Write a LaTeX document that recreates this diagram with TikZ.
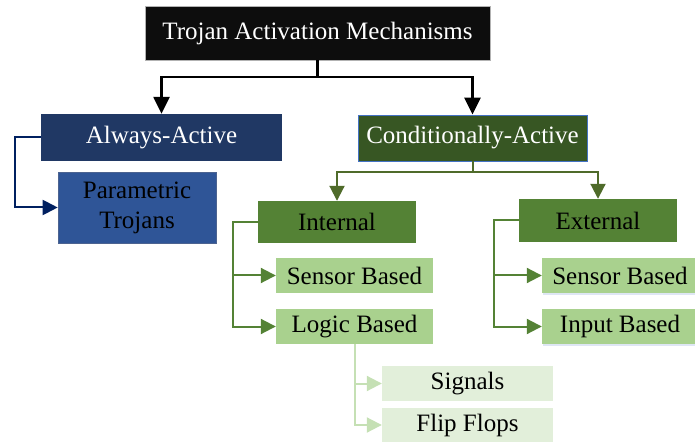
\documentclass[tikz,border=0pt]{standalone}
\usepackage{fontspec}
\setmainfont{Liberation Serif}
\usetikzlibrary{arrows.meta,shadows}
\definecolor{topfill}{HTML}{0D0D0D}
\definecolor{navy}{HTML}{203864}
\definecolor{navyline}{HTML}{002060}
\definecolor{midblue}{HTML}{2F5597}
\definecolor{bordblue}{HTML}{4472C4}
\definecolor{darkgreen}{HTML}{375623}
\definecolor{green}{HTML}{548235}
\definecolor{stemgreen}{HTML}{4F6B2A}
\definecolor{lightgreen}{HTML}{A9D18E}
\definecolor{palegreen}{HTML}{E2EFDA}
\definecolor{paleline}{HTML}{C5E0B4}
\tikzset{
  box/.style={rectangle, inner sep=0pt, align=center,
    font=\fontsize{25}{30}\selectfont},
  conn/.style={line width=2pt, -{Triangle[width=15pt,length=15pt]}},
}
\begin{document}
\begin{tikzpicture}[x=1pt,y=-1pt]
\useasboundingbox (0,0) rectangle (695,443);
% boxes: centre = middle of the pixel extents
\node[box, fill=topfill, draw=gray!60, text=white, minimum width=345pt, minimum height=54pt]
  (top) at (317.5,33) {Trojan Activation Mechanisms};
\node[box, fill=navy, text=white, minimum width=241pt, minimum height=47pt]
  (aa) at (161.5,137.5) {Always-Active};
\node[box, fill=midblue, draw=navyline!70, line width=0.6pt, minimum width=158pt, minimum height=71pt]
  (pt) at (137,207.5) {Parametric\\Trojans};
\node[box, fill=darkgreen, draw=bordblue, line width=0.8pt, text=white, minimum width=229pt, minimum height=46pt]
  (ca) at (472.5,138) {Conditionally-Active};
\node[box, fill=green, minimum width=158pt, minimum height=42pt]
  (int) at (337,222) {Internal};
\node[box, fill=green, minimum width=158pt, minimum height=43pt]
  (ext) at (598,220.5) {External};
\node[box, fill=lightgreen, minimum width=157pt, minimum height=35pt]
  (sbi) at (354.5,275.5) {Sensor Based};
\node[box, fill=lightgreen, minimum width=157pt, minimum height=35pt]
  (lbi) at (354.5,326.5) {Logic Based};
\node[box, fill=lightgreen, minimum width=156pt, minimum height=35pt,
  drop shadow={fill=bordblue!35, opacity=0.5, shadow xshift=1pt, shadow yshift=-2pt}]
  (sbe) at (620,275.5) {Sensor Based};
\node[box, fill=lightgreen, minimum width=156pt, minimum height=35pt,
  drop shadow={fill=bordblue!35, opacity=0.5, shadow xshift=1pt, shadow yshift=-2pt}]
  (ibe) at (620,326.5) {Input Based};
\node[box, fill=palegreen, minimum width=171pt, minimum height=35pt]
  (sig) at (467.5,383.5) {Signals};
\node[box, fill=palegreen, minimum width=171pt, minimum height=34pt]
  (ff) at (467.5,425) {Flip Flops};
% connectors
\draw[conn, black, line width=2.5pt, -{Triangle[width=16pt,length=17pt]}] (top.south) -- ++(0,17) -| (aa.north);
\draw[conn, black, line width=2.5pt, -{Triangle[width=16pt,length=17pt]}] (top.south) -- ++(0,17) -| (ca.north);
\draw[conn, navyline] (aa.west) -- ++(-26,0) |- (pt.west);
\draw[conn, stemgreen] (ca.south) -- ++(0,11) -| (int.north);
\draw[conn, stemgreen] (ca.south) -- ++(0,11) -| (ext.north);
\draw[conn, green] (int.west) -- ++(-25,0) |- (sbi.west);
\draw[conn, green] (int.west) -- ++(-25,0) |- (lbi.west);
\draw[conn, green] (ext.west) -- ++(-25,0) |- (sbe.west);
\draw[conn, green] (ext.west) -- ++(-25,0) |- (ibe.west);
\draw[conn, paleline] (lbi.south) |- (sig.west);
\draw[conn, paleline] (lbi.south) |- (ff.west);
\end{tikzpicture}
\end{document}
